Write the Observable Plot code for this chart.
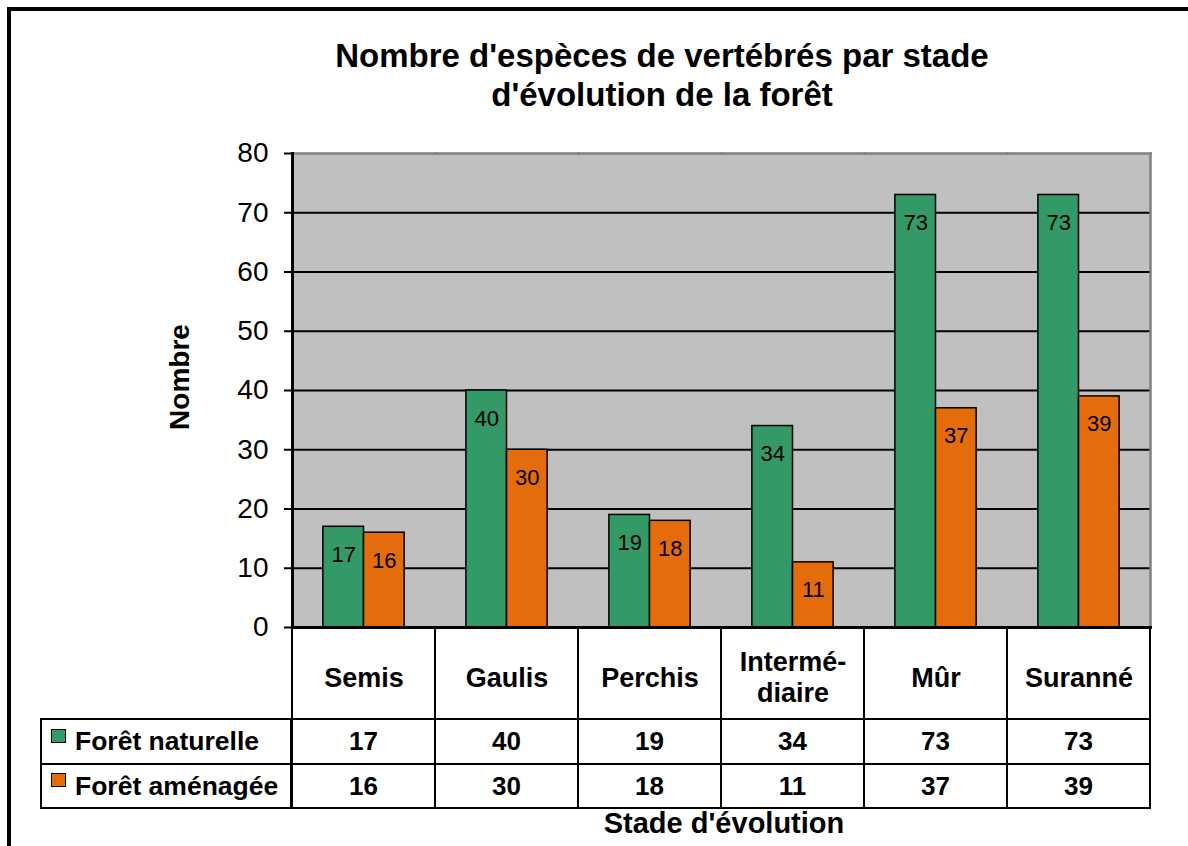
<!DOCTYPE html>
<html><head><meta charset="utf-8">
<script src="https://cdn.jsdelivr.net/npm/d3@7"></script>
<script src="https://cdn.jsdelivr.net/npm/@observablehq/plot@0.6"></script>
<style>
html,body{margin:0;padding:0;background:#fff;overflow:hidden;}
#wrap{position:relative;width:1188px;height:846px;overflow:hidden;font-family:"Liberation Sans",Arial,sans-serif;color:#000;}
#border{position:absolute;left:7px;top:7px;width:1400px;height:1000px;border-top:4px solid #000;border-left:4px solid #000;}
#title{position:absolute;left:162px;width:1000px;top:36px;text-align:center;font-weight:bold;font-size:33px;line-height:39px;}
.cell{position:absolute;box-sizing:border-box;border:2px solid #000;background:#fff;display:flex;align-items:center;justify-content:center;font-weight:bold;font-size:26px;}
.leg{justify-content:flex-start;padding-left:9px;font-size:26.5px;}
.sw{display:inline-block;width:15px;height:14px;box-sizing:border-box;border:1.5px solid #000;margin-right:9px;position:relative;top:-6px;}
#ylab{position:absolute;left:180px;top:377px;transform:translate(-50%,-50%) rotate(-90deg);font-weight:bold;font-size:28px;white-space:nowrap;}
#xlab{position:absolute;left:724px;top:823px;transform:translate(-50%,-50%);font-weight:bold;font-size:29px;white-space:nowrap;}
#chart{position:absolute;left:0;top:0;pointer-events:none;}
</style></head>
<body>
<div id="wrap">
  <div id="border"></div>
  <div id="table"></div>
  <div id="chart"></div>
  <div id="title">Nombre d'espèces de vertébrés par stade<br>d'évolution de la forêt</div>
  <div id="ylab">Nombre</div>
  <div id="xlab">Stade d'évolution</div>
</div>
<script>
const stages = ["Semis", "Gaulis", "Perchis", "Intermédiaire", "Mûr", "Suranné"];
const stageLabels = ["Semis", "Gaulis", "Perchis", "Intermé-\ndiaire", "Mûr", "Suranné"];
const series = ["Forêt naturelle", "Forêt aménagée"];
const naturelle = [17, 40, 19, 34, 73, 73];
const amenagee = [16, 30, 18, 11, 37, 39];
const colors = ["#339966", "#E46C0A"];
const yTicks = [0, 10, 20, 30, 40, 50, 60, 70, 80];
const gridTicks = [10, 20, 30, 40, 50, 60, 70];

const data = [];
stages.forEach((s, i) => {
  data.push({stage: s, series: series[0], value: naturelle[i]});
  data.push({stage: s, series: series[1], value: amenagee[i]});
});
const labelOf = new Map(stages.map((s, i) => [s, stageLabels[i]]));

const W = 1188, H = 846;
const mL = 291, mR = 38, mT = 153, mB = 219;

const chart = Plot.plot({
  width: W, height: H,
  marginLeft: mL, marginRight: mR, marginTop: mT, marginBottom: mB,
  style: {background: "transparent", fontFamily: "'Liberation Sans', Arial, sans-serif", overflow: "visible", color: "#000"},
  fx: {domain: stages, padding: 0, axis: null, label: null},
  x: {domain: series, paddingInner: 0, paddingOuter: 0.76, axis: null, round: false},
  y: {domain: [0, 80], axis: null},
  color: {domain: series, range: colors},
  marks: [
    Plot.frame({fill: "#c0c0c0", stroke: "#c0c0c0", strokeWidth: 1.2}),
    Plot.ruleY(gridTicks, {stroke: "#000", strokeWidth: 2}),
    Plot.frame({anchor: "top", stroke: "#808080", strokeWidth: 2.5}),
    Plot.frame({anchor: "right", stroke: "#808080", strokeWidth: 2.5, facetAnchor: "right"}),
    Plot.barY(data, {fx: "stage", x: "series", y: "value", fill: "series", stroke: "#000", strokeWidth: 1.5}),
    Plot.text(data, {fx: "stage", x: "series", y: "value", text: d => String(d.value), dy: 28, fontSize: 22, fill: "#000", lineAnchor: "middle"}),
    Plot.frame({anchor: "bottom", stroke: "#000", strokeWidth: 3}),
    Plot.frame({anchor: "left", stroke: "#000", strokeWidth: 3, facetAnchor: "left"}),
    Plot.axisY({ticks: yTicks, tickSize: 8, tickPadding: 16, fontSize: 28, strokeWidth: 2, label: null, facetAnchor: "left", tickFormat: d => String(d)}),
    Plot.axisFx({anchor: "bottom", tickSize: 0, tickPadding: 49, fontSize: 27, fontWeight: "bold", lineAnchor: "middle", lineHeight: 1.17, label: null, tickFormat: s => labelOf.get(s)})
  ]
});
document.getElementById("chart").appendChild(chart);

// data table beneath the plot, aligned with the fx scale
const fx = chart.scale("fx");
const colW = (W - mL - mR) / stages.length;
const colX = stages.map((s, i) => {
  const v = fx && fx.apply ? fx.apply(s) : undefined;
  return (v != null && isFinite(v)) ? (v < mL - 1 ? mL + v : v) : mL + i * colW;
});
const bw = fx && fx.bandwidth ? fx.bandwidth : colW;
const rows = [[627, 719], [719, 764], [764, 808]];
const legendLeft = 41;
const table = document.getElementById("table");
function cell(x0, x1, y0, y1, html, cls) {
  const d = document.createElement("div");
  d.className = "cell" + (cls ? " " + cls : "");
  d.style.left = (x0 - 1) + "px";
  d.style.top = (y0 - 1) + "px";
  d.style.width = (x1 - x0 + 2) + "px";
  d.style.height = (y1 - y0 + 2) + "px";
  d.innerHTML = html;
  table.appendChild(d);
}
stages.forEach((s, i) => {
  const x0 = colX[i], x1 = colX[i] + bw;
  cell(x0, x1, rows[0][0], rows[0][1], "");
  cell(x0, x1, rows[1][0], rows[1][1], String(naturelle[i]));
  cell(x0, x1, rows[2][0], rows[2][1], String(amenagee[i]));
});
series.forEach((name, j) => {
  cell(legendLeft, mL, rows[j + 1][0], rows[j + 1][1],
    `<span class="sw" style="background:${colors[j]}"></span>${name}`, "leg");
});
</script>
</body></html>
